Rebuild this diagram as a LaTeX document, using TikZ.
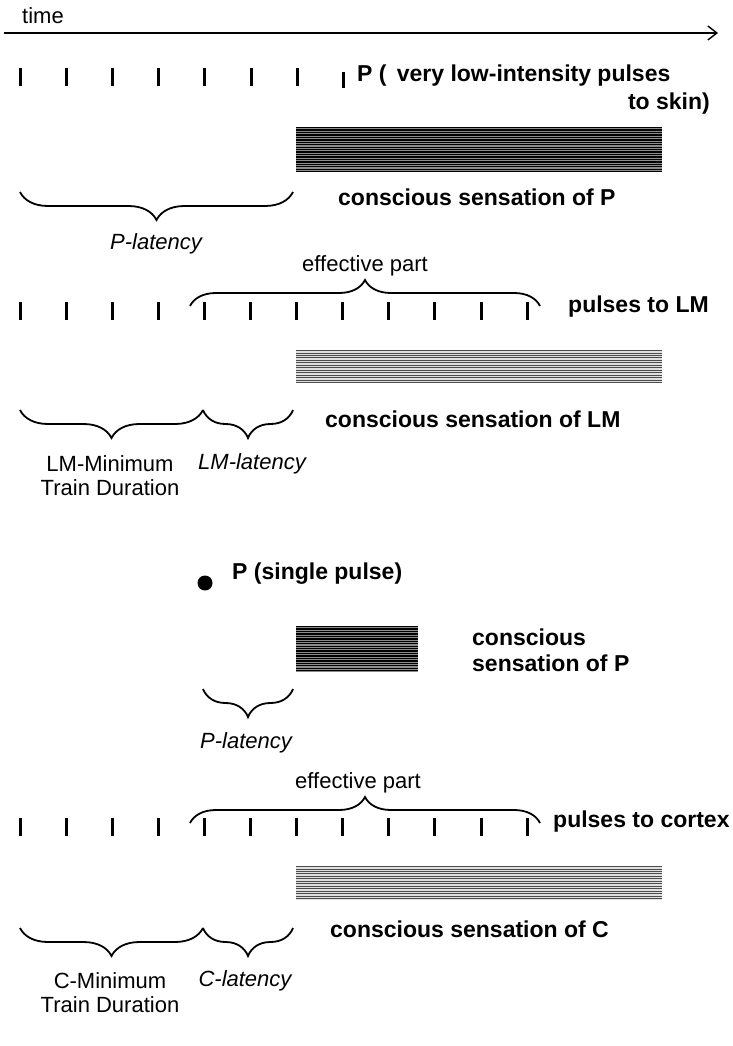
\documentclass[tikz,border=0pt]{standalone}
\usepackage{fontspec}
\setmainfont{Liberation Sans}
\usetikzlibrary{decorations.pathreplacing,arrows.meta}

\begin{document}
\begin{tikzpicture}[x=1pt,y=-1pt,
  lbl/.style={font=\fontsize{22}{24}\selectfont, inner sep=0pt},
  ital/.style={font=\fontsize{22}{24}\selectfont\itshape, inner sep=0pt},
  bold/.style={font=\fontsize{23}{26}\selectfont\bfseries, inner sep=0pt},
  pulse/.style={line width=3pt},
  curly/.style={decorate, decoration={brace, amplitude=#1}, line width=1.8pt},
  curly/.default=28pt,
  axis/.style={line width=1.4pt, -{Straight Barb[length=9pt,width=14pt,line width=1.4pt]}},
  darkbar/.style={line width=1.3pt, black},
  lightbar/.style={line width=1.0pt, black!70},
]
\useasboundingbox (0,0) rectangle (732,1046);

% dense horizontal hatching used for the sensation bars
% #1,#2 corner, #3,#4 corner, #5 last line index, #6 underlay colour, #7 line style
\newcommand{\sensebar}[7]{%
  \fill[#6] (#1,#2) rectangle (#3,#4);
  \foreach \k in {0,...,#5}
    \draw[#7] (#1,#2+0.6+2.45*\k) -- (#3,#2+0.6+2.45*\k);
}

% time axis
\node[lbl, anchor=west] (time) at (22,16) {time};
\coordinate (axL) at (4,33);
\coordinate (axR) at (718,33);
\draw[axis] (axL) -- (axR);

% ---- skin pulse train ----
\foreach \i in {0,...,6}
  \draw[pulse] (20+46.2*\i,68) -- (20+46.2*\i,86);
\draw[pulse] (343,72) -- (343,88);
\node[bold, anchor=west] (skin) at (357,76) {P (\, very low-intensity pulses};
\node[bold, anchor=east] (skinb) at (710,104) {to skin)};
\sensebar{296}{127}{662}{172}{18}{black!45}{darkbar}
\node[bold, anchor=west] (senseP) at (338,197) {conscious sensation of P};
\coordinate (b1L) at (20,192);
\coordinate (b1R) at (293,192);
\draw[curly] (b1R) -- (b1L);
\node[ital] (platA) at (156,244) {P-latency};

% ---- LM pulse train ----
\node[lbl] (effA) at (365,266) {effective part};
\coordinate (e1L) at (190,306);
\coordinate (e1R) at (540,306);
\draw[curly=26pt] (e1L) -- (e1R);
\foreach \i in {0,...,11}
  \draw[pulse] (20+46.1*\i,302) -- (20+46.1*\i,320);
\node[bold, anchor=west] (lm) at (568,307) {pulses to LM};
\sensebar{296}{350}{662}{383}{13}{black!12}{lightbar}
\node[bold, anchor=west] (senseLM) at (325,419) {conscious sensation of LM};
\coordinate (l1) at (20,410);
\coordinate (l2) at (203,410);
\coordinate (l3) at (293,410);
\draw[curly] (l2) -- (l1);
\draw[curly] (l3) -- (l2);
\node[lbl, align=center] (lmmin) at (110,476) {LM-Minimum\\Train Duration};
\node[ital] (lmlat) at (252,464) {LM-latency};

% ---- single skin pulse ----
\node[circle, fill=black, minimum size=15pt, inner sep=0pt] (dot) at (205,583) {};
\node[bold, anchor=west] (single) at (232,574) {P (single pulse)};
\sensebar{296}{626}{418}{672}{18}{black!45}{darkbar}
\node[bold, anchor=west, align=left] (senseP2) at (472,650) {conscious\\sensation of P};
\coordinate (s1) at (203,689);
\coordinate (s2) at (293,689);
\draw[curly] (s2) -- (s1);
\node[ital] (platB) at (246,743) {P-latency};

% ---- cortical pulse train ----
\node[lbl] (effB) at (358,783) {effective part};
\coordinate (e2L) at (190,823);
\coordinate (e2R) at (540,823);
\draw[curly=26pt] (e2L) -- (e2R);
\foreach \i in {0,...,11}
  \draw[pulse] (20+46.1*\i,818) -- (20+46.1*\i,836);
\node[bold, anchor=west] (cortex) at (553,822) {pulses to cortex};
\sensebar{296}{866}{662}{900}{13}{black!12}{lightbar}
\node[bold, anchor=west] (senseC) at (330,929) {conscious sensation of C};
\coordinate (c1) at (20,928);
\coordinate (c2) at (203,928);
\coordinate (c3) at (293,928);
\draw[curly] (c2) -- (c1);
\draw[curly] (c3) -- (c2);
\node[lbl, align=center] (cmin) at (110,993) {C-Minimum\\Train Duration};
\node[ital] (clat) at (245,981) {C-latency};
\end{tikzpicture}
\end{document}
